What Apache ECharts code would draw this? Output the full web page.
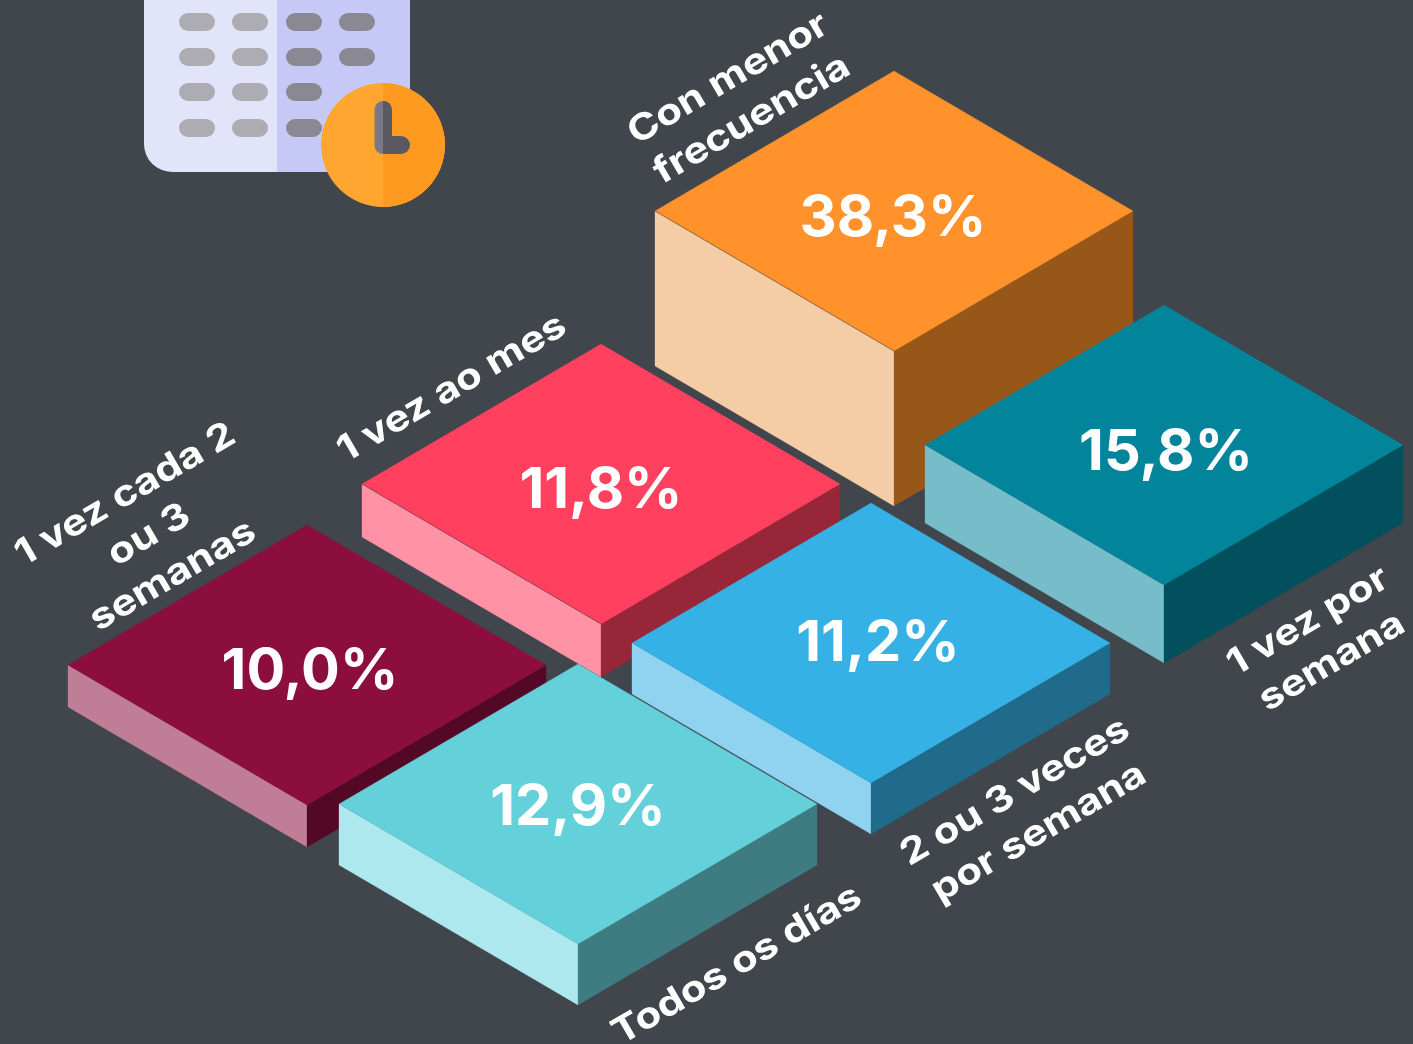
<!DOCTYPE html>
<html>
<head>
<meta charset="utf-8">
<style>html,body{margin:0;padding:0;background:#41454c}#c{width:1413px;height:1044px}</style>
<script src="https://cdn.jsdelivr.net/npm/echarts@6/dist/echarts.min.js"></script>
</head>
<body>
<div id="c"></div>
<script>
// Data, in drawing order (back to front)
const categories = ['Con menor\nfrecuencia', '1 vez por\nsemana', '1 vez ao mes', '2 ou 3 veces\npor semana', '1 vez cada 2\nou 3\nsemanas', 'Todos os días'];
const shares = [38.3, 15.8, 11.8, 11.2, 10.0, 12.9];
const blockDepths = [155, 78, 53, 51, 42, 61];

// Layout and palette, kept apart from the data
const planeX = [894, 1164, 601, 871, 307, 578];
const planeY = [211, 445, 484, 643, 665, 804];
const valueOffset = [[-1, 8], [2, 8], [0, 7], [7, 1], [3, 7], [0, 4]];
const labelAt = [[740, 99], [1320, 641.5], [452, 388], [1027, 812], [149, 535], [737, 965]];
const topColor = ['#ff922b', '#02859b', '#ff405e', '#35b1e5', '#8b0e3c', '#64d0da'];
const leftColor = ['#f4cca6', '#77bcc9', '#ff93a5', '#8fd3f0', '#bf7e96', '#ade8ee'];
const rightColor = ['#965719', '#02505d', '#962638', '#206b8b', '#530925', '#3f7c82'];
const HALF_W = 239, HALF_H = 140;
const TILT = Math.atan2(HALF_H, HALF_W);
const FONT = 'Inter, "Open Sans", sans-serif';

const chart = echarts.init(document.getElementById('c'), null, {renderer: 'canvas'});

const pill = (x, y, fill) => ({
  type: 'rect', shape: {x, y, width: 36, height: 18, r: 9}, style: {fill}, silent: true
});
const pillCols = [[179, '#adacb2'], [232, '#adacb2'], [286, '#8a8892'], [339, '#8a8892']];
const pillRows = [13, 48, 83, 119];
const pills = [];
pillRows.forEach((y, r) => pillCols.forEach(([x, fill], c) => {
  if (r >= 2 && c === 3) return;
  pills.push(pill(x, y, fill));
}));

const icon = [
  {type: 'rect', shape: {x: 144, y: -40, width: 266, height: 212, r: [0, 0, 0, 28]}, style: {fill: '#e2e4fa'}, silent: true},
  {type: 'rect', shape: {x: 277, y: -40, width: 133, height: 212}, style: {fill: '#c6c9f6'}, silent: true},
  ...pills,
  {type: 'circle', shape: {cx: 383, cy: 145, r: 62}, style: {fill: '#ffa630'}, silent: true},
  {type: 'sector', shape: {cx: 383, cy: 145, r: 62, r0: 0, startAngle: -Math.PI / 2, endAngle: Math.PI / 2}, style: {fill: '#ff9a20'}, silent: true},
  {type: 'rect', shape: {x: 374.5, y: 101, width: 8.5, height: 53, r: [8.5, 0, 0, 8.5]}, style: {fill: '#797884'}, silent: true},
  {type: 'rect', shape: {x: 383, y: 101, width: 9, height: 53, r: [0, 8.5, 0, 0]}, style: {fill: '#5a5860'}, silent: true},
  {type: 'rect', shape: {x: 383, y: 136, width: 27, height: 18, r: [0, 9, 9, 0]}, style: {fill: '#5a5860'}, silent: true}
];

function renderBlock(params, api) {
  const i = api.value(2);
  const c = api.coord([api.value(0), api.value(1)]);
  const s = api.size([HALF_W, HALF_H]);
  const d = api.size([0, api.value(3)])[1];
  const T = [c[0], c[1] - s[1]], L = [c[0] - s[0], c[1]], R = [c[0] + s[0], c[1]], B = [c[0], c[1] + s[1]];
  const dn = p => [p[0], p[1] + d];
  const off = valueOffset[i];
  const poly = (points, fill) => ({
    type: 'polygon', shape: {points},
    style: {fill, stroke: fill, lineWidth: 0.3}
  });
  const children = [
    poly([L, B, dn(B), dn(L)], leftColor[i]),
    poly([B, R, dn(R), dn(B)], rightColor[i]),
    poly([T, R, B, L], topColor[i])
  ];
  if (i === 0 || i === 2) {
    children.push({type: 'polyline', shape: {points: [L, B]}, style: {stroke: 'rgba(60,50,50,0.65)', lineWidth: 0.7, fill: null}});
  }
  children.push({
    type: 'text', x: c[0] + off[0], y: c[1] + off[1], scaleX: 1.01,
    style: {
      text: String(api.value(4).toFixed(1)).replace('.', ',') + '%',
      fill: '#fff', fontFamily: FONT, fontWeight: 700, fontSize: 57,
      align: 'center', verticalAlign: 'middle'
    }
  });
  return {type: 'group', children};
}

function renderLabel(params, api) {
  const i = api.value(2);
  const p = api.coord([api.value(0), api.value(1)]);
  return {
    type: 'text', x: p[0], y: p[1], rotation: TILT, scaleX: 1.17,
    style: {
      text: categories[i], fill: '#fff', fontFamily: FONT, fontWeight: 700,
      fontSize: 36, lineHeight: 47, align: 'center', verticalAlign: 'middle'
    }
  };
}

chart.setOption({
  backgroundColor: '#41454c',
  animation: false,
  grid: {left: 0, right: 0, top: 0, bottom: 0},
  xAxis: {type: 'value', min: 0, max: 1413, show: false},
  yAxis: {type: 'value', min: 0, max: 1044, inverse: true, show: false},
  graphic: {elements: icon.map(e => Object.assign({z: 1}, e))},
  series: [
    {
      type: 'custom', name: 'Frecuencia', clip: false, z: 3,
      renderItem: renderBlock,
      encode: {x: 0, y: 1},
      data: shares.map((v, i) => [planeX[i], planeY[i], i, blockDepths[i], v])
    },
    {
      type: 'custom', name: 'Etiquetas', clip: false, z: 4,
      renderItem: renderLabel,
      encode: {x: 0, y: 1},
      data: labelAt.map((p, i) => [p[0], p[1], i])
    }
  ]
});
</script>
</body>
</html>
